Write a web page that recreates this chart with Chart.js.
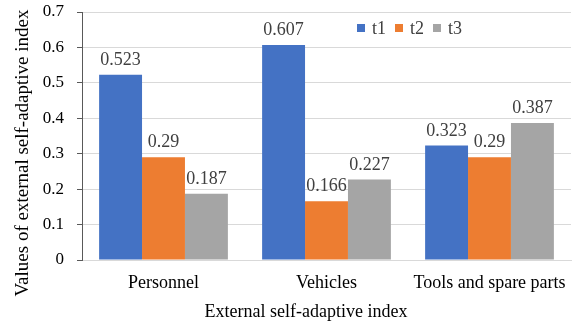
<!DOCTYPE html>
<html>
<head>
<meta charset="utf-8">
<script src="https://cdn.jsdelivr.net/npm/chart.js@4/dist/chart.umd.min.js"></script>
<style>
html,body{margin:0;padding:0;background:#fff;}
#wrap{width:574px;height:322px;position:relative;}
</style>
</head>
<body>
<div id="wrap"><canvas id="c" width="574" height="322"></canvas></div>
<script>
const categories = ["Personnel", "Vehicles", "Tools and spare parts"];
const seriesNames = ["t1", "t2", "t3"];
const t1 = [0.523, 0.607, 0.323];
const t2 = [0.29, 0.166, 0.29];
const t3 = [0.187, 0.227, 0.387];
const seriesColors = ["#4472C4", "#ED7D31", "#A5A5A5"];
const yTicks = [0, 0.1, 0.2, 0.3, 0.4, 0.5, 0.6, 0.7];
const yTitle = "Values of external self-adaptive index";
const xTitle = "External self-adaptive index";

const FONT = "'Liberation Serif', 'Times New Roman', serif";

const labelPlugin = {
  id: 'barLabels',
  afterDatasetsDraw(chart) {
    const ctx = chart.ctx;
    ctx.save();
    ctx.font = "18px " + FONT;
    ctx.fillStyle = "#404040";
    ctx.textAlign = "center";
    ctx.textBaseline = "alphabetic";
    chart.data.datasets.forEach((ds, di) => {
      const meta = chart.getDatasetMeta(di);
      meta.data.forEach((bar, i) => {
        ctx.fillText(String(ds.data[i]), bar.x, bar.y - 10);
      });
    });
    ctx.restore();
  }
};

const legendPlugin = {
  id: 'innerLegend',
  afterDraw(chart) {
    const ctx = chart.ctx;
    ctx.save();
    ctx.font = "18px " + FONT;
    ctx.textBaseline = "alphabetic";
    ctx.textAlign = "left";
    let x = chart.chartArea.left + 275;
    const y = chart.chartArea.top + 12;
    chart.data.datasets.forEach((ds) => {
      ctx.fillStyle = ds.backgroundColor;
      ctx.fillRect(x, y, 8, 8);
      ctx.fillStyle = "#404040";
      ctx.fillText(ds.label, x + 15, y + 10);
      x += 15 + ctx.measureText(ds.label).width + 9;
    });
    ctx.restore();
  }
};

const titlesPlugin = {
  id: 'axisTitles',
  afterDraw(chart) {
    const ctx = chart.ctx;
    ctx.save();
    ctx.fillStyle = "#000";
    ctx.textAlign = "center";
    ctx.textBaseline = "alphabetic";
    ctx.font = "18px " + FONT;
    ctx.fillText(xTitle, 306, 317);
    ctx.font = "19px " + FONT;
    ctx.translate(28, 153);
    ctx.rotate(-Math.PI / 2);
    ctx.fillText(yTitle, 0, 0);
    ctx.restore();
  }
};

const datasets = [t1, t2, t3].map((d, i) => ({
  label: seriesNames[i],
  data: d,
  backgroundColor: seriesColors[i],
  borderWidth: 0,
  categoryPercentage: 0.79,
  barPercentage: 1.0
}));

new Chart(document.getElementById('c'), {
  type: 'bar',
  data: { labels: categories, datasets },
  options: {
    responsive: false,
    animation: false,
    devicePixelRatio: 1,
    layout: { padding: { top: 12, right: 3, left: 0, bottom: 0 } },
    plugins: {
      legend: { display: false },
      tooltip: { enabled: false }
    },
    scales: {
      x: {
        afterFit(axis) { axis.height = 62; axis.paddingLeft = 0; axis.paddingRight = 0; },
        grid: { display: false, drawTicks: false },
        border: { color: "#d9d9d9", width: 1 },
        ticks: { color: "#000", font: { family: FONT, size: 18 }, padding: 12, maxRotation: 0, autoSkip: false },
        title: { display: false }
      },
      y: {
        min: 0, max: 0.7,
        afterFit(axis) { axis.width = 82; axis.paddingTop = 0; axis.paddingBottom = 0; },
        afterBuildTicks(axis) { axis.ticks = yTicks.map(v => ({ value: v })); },
        grid: { color: "#d9d9d9", tickColor: "#595959", tickLength: 5, lineWidth: 1 },
        border: { color: "#595959", width: 1 },
        ticks: { color: "#000", font: { family: FONT, size: 17 }, padding: 13, callback: v => String(Math.round(v * 10) / 10) },
        title: { display: false }
      }
    }
  },
  plugins: [labelPlugin, legendPlugin, titlesPlugin]
});
</script>
</body>
</html>
